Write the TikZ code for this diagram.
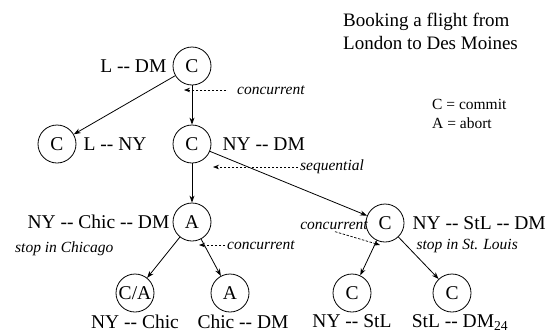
\documentclass[tikz,border=0pt]{standalone}
\usepackage{fontspec}
\setmainfont{Liberation Serif}[Ligatures=TeXOff]
\usetikzlibrary{arrows.meta,positioning}
\tikzstyle{booking} = [circle, draw, line width=0.8pt, minimum size=38pt, inner sep=0pt, font=\fontsize{19.5}{22}\selectfont]
\tikzstyle{route} = [inner sep=2pt, font=\fontsize{19.5}{22}\selectfont]
\tikzstyle{note} = [inner sep=2pt, font=\fontsize{15.5}{18}\selectfont\itshape]
\tikzstyle{arrow} = [line width=0.8pt, -{Stealth[length=7pt,width=5pt]}]
\tikzstyle{hint} = [line width=0.7pt, dash pattern=on 2.5pt off 1.5pt, -{Stealth[length=6pt,width=4.5pt]}]

\begin{document}
\begin{tikzpicture}[x=1pt,y=-1pt]
\useasboundingbox (0,0) rectangle (549,335);

% Title and legend
\node (title) [anchor=north west, align=left, inner sep=2pt, font=\fontsize{19}{23}\selectfont] at (341,11) {Booking a flight from\\London to Des Moines};
\node (legend) [anchor=north west, align=left, inner sep=2pt, font=\fontsize{15.5}{19}\selectfont] at (430,97) {C = commit\\A = abort};

% Whole trip
\node (ldm) [booking] at (192,66) {C};
\node (ldmlbl) [route, left=4pt of ldm] {L -- DM};

% First leg and the rest
\node (lny) [booking] at (57,144) {C};
\node (lnylbl) [route, right=5pt of lny] {L -- NY};
\node (nydm) [booking] at (192,144) {C};
\node (nydmlbl) [route, right=9pt of nydm] {NY -- DM};

% Via Chicago
\node (chic) [booking] at (192,222) {A};
\node (chiclbl) [route, left=1pt of chic] {NY -- Chic -- DM};
\node (chicnote) [note, anchor=west] at (13,249) {stop in Chicago};
\node (nychic) [booking] at (135,293) {C/A};
\node (nychiclbl) [route, below=0pt of nychic] {NY -- Chic};
\node (chicdm) [booking] at (230,293) {A};
\node (chicdmlbl) [route, below=0pt of chicdm, xshift=13pt] {Chic -- DM};

% Via St. Louis
\node (stl) [booking] at (385,223) {C};
\node (stllbl) [route, right=6pt of stl] {NY -- StL -- DM};
\node (stlnote) [note, anchor=east] at (520,246) {stop in St. Louis};
\node (nystl) [booking] at (352,293) {C};
\node (nystllbl) [route, below=0pt of nystl] {NY -- StL};
\node (stldm) [booking] at (452,293) {C};
\node (stldmlbl) [route, below=0pt of stldm, xshift=8pt] {StL -- DM\textsubscript{24}};

% Connections
\draw[arrow] (ldm) -- (lny);
\draw[arrow] (ldm) -- (nydm);
\draw[arrow] (nydm) -- (chic);
\draw[arrow] (nydm) -- (stl);
\draw[arrow] (chic) -- (nychic);
\draw[arrow] (chic) -- (chicdm);
\draw[arrow] (stl) -- (nystl);
\draw[arrow] (stl) -- (stldm);

% Remarks
\node (conc1) [note, anchor=west] at (235,90) {concurrent};
\coordinate (conc1tip) at (184,90);
\draw[hint] ([xshift=-9pt]conc1.west) -- (conc1tip);
\node (seq) [note, anchor=west] at (298,167) {sequential};
\coordinate (seqtip) at (213,167);
\draw[hint] (seq.west) -- (seqtip);
\node (conc2) [note, anchor=west] at (225,245) {concurrent};
\coordinate (conc2tip) at (199,245);
\draw[hint] (conc2.west) -- (conc2tip);
\node (conc3) [note] at (334,225) {concurrent};
\coordinate (conc3tip) at (380,245);
\draw[hint] ([xshift=1pt]conc3.south) -- (conc3tip);
\end{tikzpicture}
\end{document}
